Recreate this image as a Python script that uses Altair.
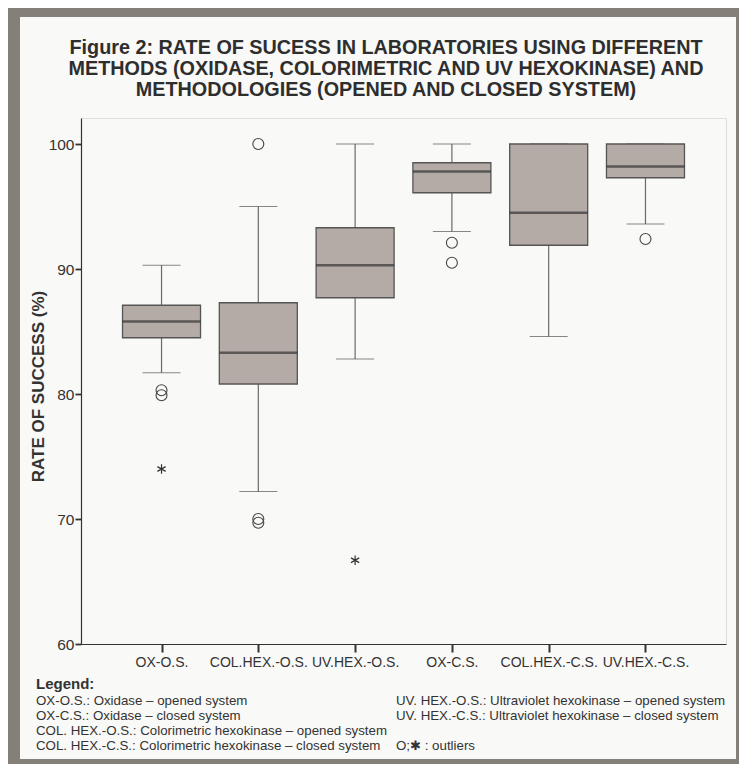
import altair as alt
import pandas as pd

# ---- data ----
categories = ["OX-O.S.", "COL.HEX.-O.S.", "UV.HEX.-O.S.", "OX-C.S.", "COL.HEX.-C.S.", "UV.HEX.-C.S."]
whisker_low = [81.7, 72.2, 82.8, 93.0, 84.6, 93.6]
q1 = [84.5, 80.8, 87.7, 96.1, 91.9, 97.3]
median = [85.8, 83.3, 90.3, 97.8, 94.5, 98.2]
q3 = [87.1, 87.3, 93.3, 98.5, 100.0, 100.0]
whisker_high = [90.3, 95.0, 100.0, 100.0, 100.0, 100.0]

circle_cat = ["OX-O.S.", "OX-O.S.", "COL.HEX.-O.S.", "COL.HEX.-O.S.", "COL.HEX.-O.S.", "OX-C.S.", "OX-C.S.", "UV.HEX.-C.S."]
circle_val = [80.3, 79.9, 100.0, 70.0, 69.7, 92.1, 90.5, 92.4]
star_cat = ["OX-O.S.", "UV.HEX.-O.S."]
star_val = [74.0, 66.7]

y_ticks = [60, 70, 80, 90, 100]

title_lines = [
    "Figure 2: RATE OF SUCESS IN LABORATORIES USING DIFFERENT",
    "METHODS (OXIDASE, COLORIMETRIC AND UV HEXOKINASE) AND",
    "METHODOLOGIES (OPENED AND CLOSED SYSTEM)",
]
legend_head = "Legend:"
legend_left = [
    "OX-O.S.: Oxidase \u2013 opened system",
    "OX-C.S.: Oxidase \u2013 closed system",
    "COL. HEX.-O.S.: Colorimetric hexokinase \u2013 opened system",
    "COL. HEX.-C.S.: Colorimetric hexokinase \u2013 closed system",
]
legend_right = [
    "UV. HEX.-O.S.: Ultraviolet hexokinase \u2013 opened system",
    "UV. HEX.-C.S.: Ultraviolet hexokinase \u2013 closed system",
    "",
    "O;\u2731 : outliers",
]

# ---- styling ----
FONT = "Liberation Sans, Arial, sans-serif"
TEXT = "#333333"
BOX_FILL = "#b4aba7"
BOX_STROKE = "#555555"
BORDER = "#857f7a"
PANEL = "#f9f9f7"

W, H = 645, 526

box_df = pd.DataFrame({
    "cat": categories, "lo": whisker_low, "q1": q1, "med": median, "q3": q3, "hi": whisker_high,
})
circ_df = pd.DataFrame({"cat": circle_cat, "v": circle_val})
star_df = pd.DataFrame({"cat": star_cat, "v": star_val})
one = pd.DataFrame({"a": [0]})

x_enc = alt.X(
    "cat:N", sort=categories,
    scale=alt.Scale(type="point", padding=0.832),
    axis=alt.Axis(
        title=None, labelAngle=0, labelFontSize=14, labelColor=TEXT, labelFont=FONT,
        tickSize=8, tickWidth=2, tickColor="#333333", domainColor="#333333", domainWidth=1.2,
        labelPadding=3, grid=False,
    ),
)
y_scale = alt.Scale(domain=[60, 102.08], nice=False, zero=False)
y_axis = alt.Axis(
    title="RATE OF SUCCESS (%)", values=y_ticks, grid=False,
    labelFontSize=15.5, labelColor=TEXT, labelFont=FONT, labelPadding=1,
    tickSize=6, tickWidth=1.8, tickColor="#333333", domainColor="#333333", domainWidth=1.2,
    titleFontSize=17, titleFontWeight="bold", titleColor=TEXT, titleFont=FONT,
    titleX=-43, titleY=268, titleAngle=270, titleAlign="center", titleBaseline="middle",
)

base = alt.Chart(box_df)

whisk_lo = base.mark_rule(color="#6a6a6a", strokeWidth=1.2).encode(
    x=x_enc, y=alt.Y("lo:Q", scale=y_scale, axis=y_axis), y2="q1:Q")
whisk_hi = base.mark_rule(color="#6a6a6a", strokeWidth=1.2).encode(
    x=x_enc, y=alt.Y("q3:Q", scale=y_scale, axis=y_axis), y2="hi:Q")
cap_lo = base.mark_tick(size=38, thickness=1.2, color="#555555").encode(
    x=x_enc, y=alt.Y("lo:Q", scale=y_scale, axis=y_axis))
cap_hi = base.mark_tick(size=38, thickness=1.2, color="#555555").encode(
    x=x_enc, y=alt.Y("hi:Q", scale=y_scale, axis=y_axis))
boxes = base.mark_bar(width=78, fill=BOX_FILL, stroke=BOX_STROKE, strokeWidth=1.3).encode(
    x=x_enc, y=alt.Y("q1:Q", scale=y_scale, axis=y_axis), y2="q3:Q")
medians = base.mark_tick(size=78, thickness=2.4, color="#333333").encode(
    x=x_enc, y=alt.Y("med:Q", scale=y_scale, axis=y_axis))

circles = alt.Chart(circ_df).mark_point(
    shape="circle", filled=False, size=120, stroke="#444444", strokeWidth=1.1, opacity=1
).encode(x=x_enc, y=alt.Y("v:Q", scale=y_scale, axis=y_axis))

star_path = "M0,-1L0,1M-0.866,-0.5L0.866,0.5M-0.866,0.5L0.866,-0.5"
stars = alt.Chart(star_df).mark_point(
    shape=star_path, filled=False, size=90, stroke="#333333", strokeWidth=1.2, opacity=1
).encode(x=x_enc, y=alt.Y("v:Q", scale=y_scale, axis=y_axis))

layers = [whisk_lo, whisk_hi, cap_lo, cap_hi, boxes, medians, circles, stars]

# title lines
title_base = [-64.0, -43.0, -22.5]
for line, yb in zip(title_lines, title_base):
    layers.append(
        alt.Chart(one).mark_text(
            align="center", baseline="alphabetic", font=FONT, fontSize=19.8,
            fontWeight="bold", color="#2e2e2e",
        ).encode(x=alt.value(305), y=alt.value(yb), text=alt.value(line))
    )

# legend text
layers.append(
    alt.Chart(one).mark_text(
        align="left", baseline="alphabetic", font=FONT, fontSize=15, fontWeight="bold", color=TEXT
    ).encode(x=alt.value(-45), y=alt.value(571), text=alt.value(legend_head))
)
leg_base = [587, 602, 617, 632]
for txt, yb in zip(legend_left, leg_base):
    layers.append(
        alt.Chart(one).mark_text(
            align="left", baseline="alphabetic", font=FONT, fontSize=13.3, color=TEXT
        ).encode(x=alt.value(-45), y=alt.value(yb), text=alt.value(txt))
    )
for txt, yb in zip(legend_right, leg_base):
    if txt:
        layers.append(
            alt.Chart(one).mark_text(
                align="left", baseline="alphabetic", font=FONT, fontSize=13.3, color=TEXT
            ).encode(x=alt.value(315), y=alt.value(yb), text=alt.value(txt))
        )

# grey frame around the light panel (plot-area coordinates)
border_boxes = [(-73, -61, -110, 646), (655, 658, -110, 646), (-73, 658, -110, -101), (-73, 658, 641, 646)]
for x0, x1, y0, y1 in border_boxes:
    layers.append(
        alt.Chart(one).mark_rect(color=BORDER).encode(
            x=alt.value(x0), x2=alt.value(x1), y=alt.value(y0), y2=alt.value(y1)
        )
    )

chart = alt.layer(*layers).properties(
    width=W, height=H,
    autosize=alt.AutoSizeParams(type="none"),
    padding={"left": 73, "top": 110, "right": 13, "bottom": 120},
    background=PANEL,
).configure_view(
    stroke="#8c8c8c", strokeWidth=1.2
).configure(font=FONT)

chart.save("out.html", embed_options={"renderer": "svg", "actions": False})
